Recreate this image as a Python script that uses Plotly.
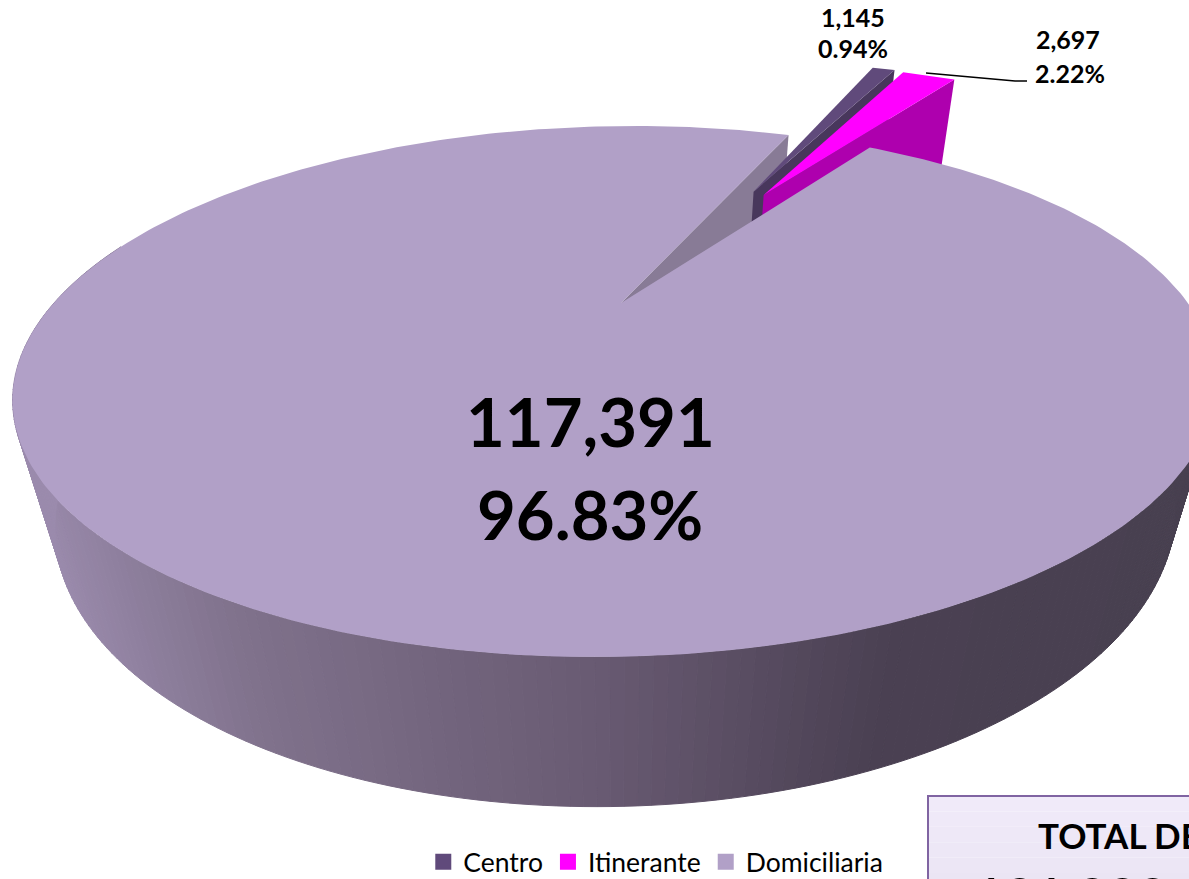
import numpy as np
import plotly.graph_objects as go

# ---- data ----
categories = ["Centro", "Itinerante", "Domiciliaria"]
values = [1145, 2697, 117391]
percent_labels = ["0.94%", "2.22%", "96.83%"]
value_labels = ["1,145", "2,697", "117,391"]
total_label = "121,233"

top_colors = ["#604a7b", "#ff00ff", "#b1a0c7"]
cut_colors = ["#48375c", "#ae00ae", "#887b96"]
side_stop_x = [40, 250, 600, 880, 1189]
side_stop_rgb = [(155, 139, 173), (128, 114, 140), (104, 90, 114), (74, 64, 82), (72, 64, 80)]

FONT = "Lato, Carlito, Calibri, sans-serif"
FIRST_ANGLE = 21.0
CX, CY = 621, 303
R, H, K, M, D, SHEAR = 567, 236, 1 / 3, 0.066, 133, 0.075
PAGE_W, PAGE_H = 1189, 886  # legend sits at the bottom of this slightly taller page


def project(px, py, level):
    """Perspective view of the pie: px/py on the unit disc, level 0 top, 1 base."""
    w = 1 + K * py + M * level
    return CX + (R * px + SHEAR * H * py) / w, CY - (H * py - D * level) / w


def rim(a_deg, off=(0, 0)):
    a = np.radians(a_deg)
    return np.sin(a) + off[0], np.cos(a) + off[1]


def poly(fig, pts, color, width=0.0):
    xs, ys = zip(*pts)
    fig.add_trace(go.Scatter(x=list(xs) + [xs[0]], y=list(ys) + [ys[0]], mode="lines", fill="toself",
                             fillcolor=color, line=dict(color=color, width=width),
                             hoverinfo="skip", showlegend=False))


sweeps = [v / sum(values) * 360 for v in values]
a_centro0 = FIRST_ANGLE
a_centro1 = a_centro0 + sweeps[0]
a_itin1 = a_centro1 + sweeps[1]
a_dom1 = a_itin1 + sweeps[2]

fig = go.Figure()

# Domiciliaria: cut face behind the exploded slices
l_rim = rim(FIRST_ANGLE)
poly(fig, [project(0, 0, 0), project(*l_rim, 0), project(*l_rim, 1), project(0, 0, 1)], cut_colors[2])

# Centro
off_c = (0.26, 0.56)
c0, c1 = rim(a_centro0, off_c), rim(a_centro1, off_c)
poly(fig, [project(*off_c, 0), project(*c1, 0), project(*c1, 1), project(*off_c, 1)], cut_colors[0])
poly(fig, [project(*off_c, 0), project(*c0, 0), project(*c1, 0)], top_colors[0])

# Itinerante
off_i = (0.28, 0.54)
i0, i1 = rim(a_centro1, off_i), rim(a_itin1, off_i)
poly(fig, [project(*off_i, 0), project(*i1, 0), project(*i1, 1), project(*off_i, 1)], cut_colors[1])
poly(fig, [project(*off_i, 0), project(*i0, 0), project(*i1, 0)], top_colors[1])

# Domiciliaria: outer wall, shaded by screen position
edges = np.linspace(100, 285, 186)
for a0, a1 in zip(edges[:-1], edges[1:]):
    p0, p1 = rim(a0), rim(a1)
    q = [project(*p0, 0), project(*p1, 0), project(*p1, 1), project(*p0, 1)]
    mx = np.mean([pt[0] for pt in q])
    rgb = [int(round(np.interp(mx, side_stop_x, [c[i] for c in side_stop_rgb]))) for i in range(3)]
    poly(fig, q, f"rgb({rgb[0]},{rgb[1]},{rgb[2]})", 1.0)

# Domiciliaria: top face
arc = np.linspace(a_itin1, a_dom1, 361)
poly(fig, [project(0, 0, 0)] + [project(*rim(a), 0) for a in arc], top_colors[2])

# Leader line for Itinerante
fig.add_trace(go.Scatter(x=[926, 1015, 1027], y=[73, 81, 81], mode="lines",
                         line=dict(color="#000000", width=1.5), hoverinfo="skip", showlegend=False))

# Legend entries
for name, col in zip(categories, top_colors):
    fig.add_trace(go.Scatter(x=[None], y=[None], mode="markers", name=name,
                             marker=dict(symbol="square", size=16, color=col)))


def label(x, y, text, size):
    fig.add_annotation(x=x, y=y, text=f"<b>{text}</b>", showarrow=False, xref="x", yref="y",
                       font=dict(family=FONT, size=size, color="#000000"))


label(853, 17, value_labels[0], 25)
label(853, 48, percent_labels[0], 25)
label(1068, 39, value_labels[1], 25)
label(1070, 73, percent_labels[1], 25)
label(590, 421, value_labels[2], 67)
label(590, 514, percent_labels[2], 67)

# Total box, light gradient from top to bottom
box_steps = np.linspace(796, 950, 11)
for j, (y0, y1) in enumerate(zip(box_steps[:-1], box_steps[1:])):
    fig.add_shape(type="rect", x0=928, y0=y0, x1=1300, y1=y1, layer="above",
                  fillcolor=f"rgb({240 - j},{234 - j},{249 - j})", line=dict(width=0))
fig.add_shape(type="rect", x0=928, y0=796, x1=1300, y1=950, layer="above",
              fillcolor="rgba(0,0,0,0)", line=dict(color="#8064a2", width=2))
fig.add_annotation(x=1036, y=812, text="<b>TOTAL DE</b>", xanchor="left", yanchor="top", showarrow=False,
                   font=dict(family=FONT, size=35, color="#000000"))
fig.add_annotation(x=1070, y=862, text=f"<b>{total_label}</b>", xanchor="center", yanchor="top", showarrow=False,
                   font=dict(family=FONT, size=52, color="#000000"))

fig.update_layout(
    width=PAGE_W, height=PAGE_H, margin=dict(l=0, r=0, t=0, b=0),
    paper_bgcolor="#ffffff", plot_bgcolor="#ffffff",
    xaxis=dict(range=[0, PAGE_W], visible=False, fixedrange=True),
    yaxis=dict(range=[PAGE_H, 0], visible=False, fixedrange=True),
    legend=dict(orientation="h", x=0.356, y=0, xanchor="left", yanchor="bottom",
                bgcolor="rgba(0,0,0,0)", font=dict(family=FONT, size=26.5, color="#000000"),
                itemwidth=30, tracegroupgap=0),
    hovermode=False,
)

fig.write_html("out.html", config={"displayModeBar": False},
               post_script="document.body.style.margin='0';document.documentElement.style.overflow='hidden';")
